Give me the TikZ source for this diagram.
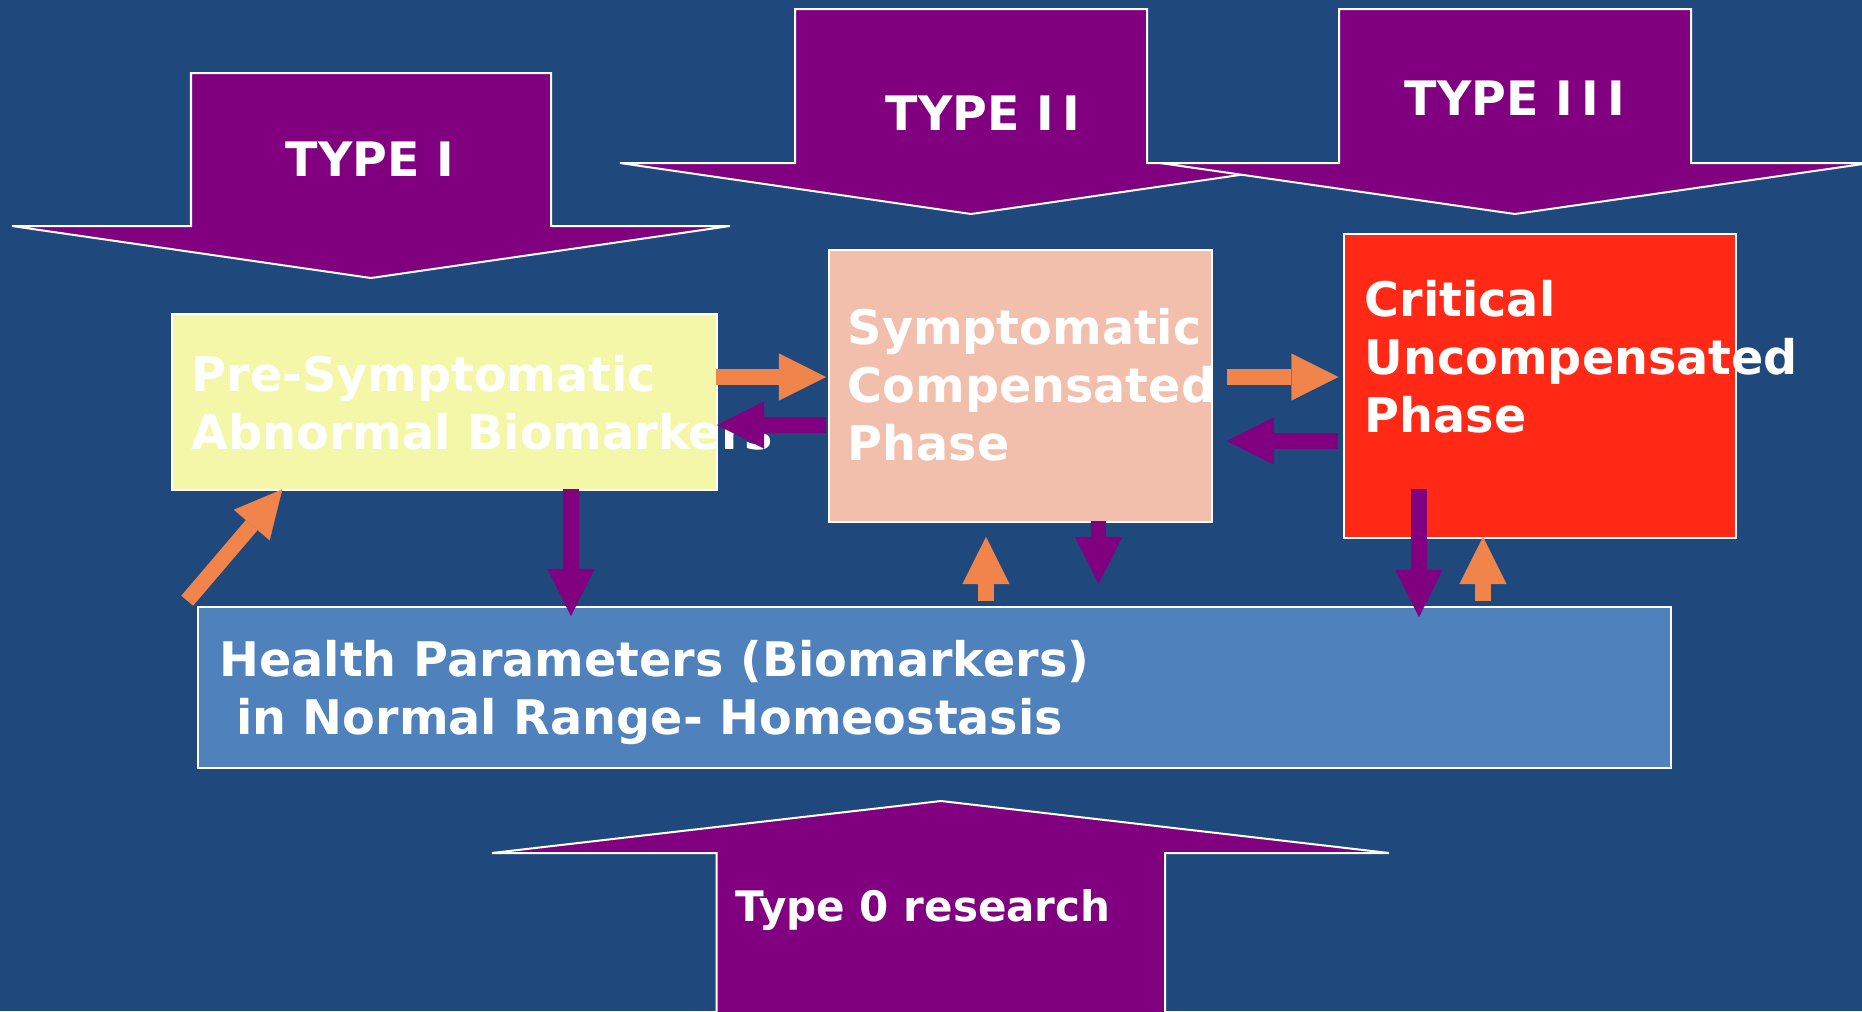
\documentclass[tikz,border=0pt]{standalone}
\usepackage{fontspec}
\setmainfont{DejaVu Sans}
\usetikzlibrary{arrows.meta}
\definecolor{bg}{HTML}{1F497D}
\definecolor{pur}{HTML}{800080}
\definecolor{org}{HTML}{F0844A}
\definecolor{ylw}{HTML}{F5F7A8}
\definecolor{salm}{HTML}{F2BFAD}
\definecolor{crit}{HTML}{FF2916}
\definecolor{hlth}{HTML}{4F81BD}
\tikzset{
  bigarrow/.style={draw=white, line width=0.02cm, fill=pur, line join=miter},
  phasebox/.style={draw=white, line width=0.02cm, inner sep=0pt, anchor=north west},
  boxtext/.style={text=white, font=\fontsize{13.55pt}{16.4pt}\selectfont\bfseries, align=left, anchor=base west, inner sep=0pt},
  typetext/.style={text=white, font=\fontsize{13.5pt}{16pt}\selectfont\bfseries, anchor=base, inner sep=0pt},
  zerotext/.style={text=white, font=\fontsize{11.95pt}{14pt}\selectfont\bfseries, anchor=base west, inner sep=0pt},
  fatarrow/.style={line width=0.155cm, -{Triangle[length=0.47cm, width=0.47cm, line width=0.1pt]}}
}
\newcommand{\isp}{\hspace{0.085cm}}
\begin{document}
\begin{tikzpicture}[x=0.01cm, y=-0.01cm]
\useasboundingbox (0,0) rectangle (1862,1011);
\fill[bg] (0,0) rectangle (1862,1011);
\clip (0,0) rectangle (1862,1011);

% big research-type arrows
\draw[bigarrow] (191,73) -- (551,73) -- (551,226) -- (730,226) -- (371,278) -- (12,226) -- (191,226) -- cycle;
\draw[bigarrow] (795,9) -- (1147,9) -- (1147,163) -- (1322,163) -- (971,214) -- (620,163) -- (795,163) -- cycle;
\draw[bigarrow] (1339,9) -- (1691,9) -- (1691,163) -- (1870,163) -- (1515,214) -- (1160,163) -- (1339,163) -- cycle;
\draw[bigarrow] (941,801) -- (1389,853) -- (1165,853) -- (1165,1030) -- (716.5,1030) -- (716.5,853) -- (492,853) -- cycle;

\node[typetext] (t1) at (370,176) {TYPE I};
\node[typetext] (t2) at (983,130) {TYPE I\isp I};
\node[typetext] (t3) at (1515,115) {TYPE I\isp I\isp I};
\node[zerotext] (t0) at (735,921) {Type 0 research};

% phase boxes
\node[phasebox, fill=ylw, minimum width=5.445cm, minimum height=1.76cm] (pre) at (171,313) {};
\node[phasebox, fill=salm, minimum width=3.835cm, minimum height=2.72cm] (comp) at (827.5,249) {};
\node[phasebox, fill=crit, minimum width=3.92cm, minimum height=3.04cm] (crit) at (1343,233) {};
\node[phasebox, fill=hlth, minimum width=14.72cm, minimum height=1.61cm] (health) at (197,606) {};

% (base anchor of a multi-line node = baseline of its last line)
\node[boxtext] (pretext) at (191,449) {Pre-Symptomatic\\Abnormal Biomarkers};
\node[boxtext] (comptext) at (847,460) {Symptomatic\\Compensated\\Phase};
\node[boxtext] (crittext) at (1364,432) {Critical\\Uncompensated\\Phase};
\node[boxtext] (healthtext) at (218.7,734) {Health Parameters (Biomarkers)\\\hspace*{0.167cm}in Normal Range- Homeostasis};

% connector end points
\coordinate (a1s) at (715.6,377);  \coordinate (a1e) at (826,377);
\coordinate (a2s) at (826,425);    \coordinate (a2e) at (717,425);
\coordinate (a3s) at (187.2,600.7); \coordinate (a3e) at (282.3,489.3);
\coordinate (a4s) at (571,489);    \coordinate (a4e) at (571,616);
\coordinate (a5s) at (1227,377);   \coordinate (a5e) at (1338.4,377);
\coordinate (a6s) at (1338,441);   \coordinate (a6e) at (1226.7,441);
\coordinate (a7s) at (986,601);    \coordinate (a7e) at (986,537);
\coordinate (a8s) at (1098.6,521); \coordinate (a8e) at (1098.6,584);
\coordinate (a9s) at (1419,489);   \coordinate (a9e) at (1419,617);
\coordinate (a10s) at (1483,601);  \coordinate (a10e) at (1483,537);

\draw[fatarrow, org] (a1s) -- (a1e);
\draw[fatarrow, pur] (a2s) -- (a2e);
\draw[fatarrow, org] (a3s) -- (a3e);
\draw[fatarrow, pur] (a4s) -- (a4e);
\draw[fatarrow, org] (a5s) -- (a5e);
\draw[fatarrow, pur] (a6s) -- (a6e);
\draw[fatarrow, org] (a7s) -- (a7e);
\draw[fatarrow, pur] (a8s) -- (a8e);
\draw[fatarrow, pur] (a9s) -- (a9e);
\draw[fatarrow, org] (a10s) -- (a10e);
\end{tikzpicture}
\end{document}
